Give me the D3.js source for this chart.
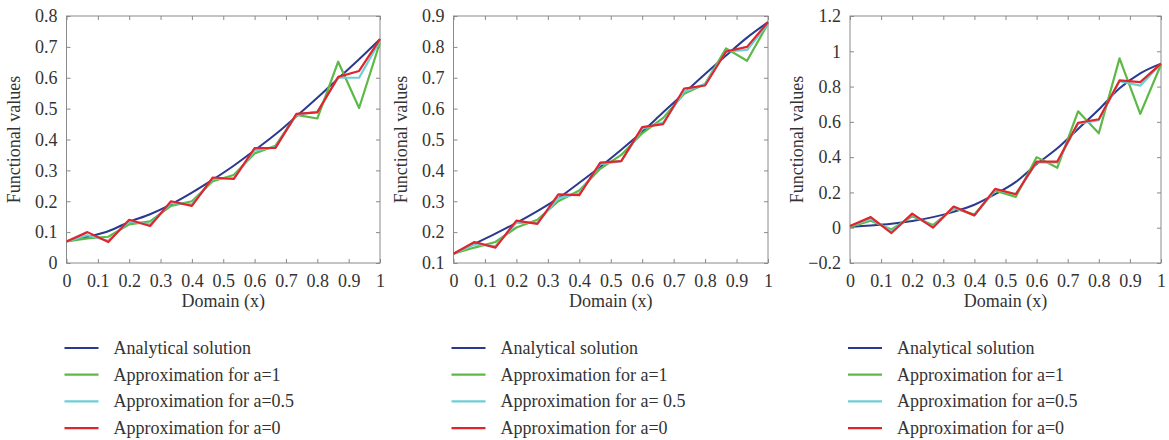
<!DOCTYPE html>
<html>
<head>
<meta charset="utf-8">
<script src="https://cdn.jsdelivr.net/npm/d3@7"></script>
<style>
  body { margin: 0; background: #fff; }
  svg { display: block; }
  text { font-family: "Liberation Serif", "DejaVu Serif", serif; fill: #333; }
</style>
</head>
<body>
<div id="chart"></div>
<script>
// x positions shared by every panel (16 nodes on [0,1])
const xNodes = [0, 1/15, 2/15, 3/15, 4/15, 5/15, 6/15, 7/15, 8/15, 9/15, 10/15, 11/15, 12/15, 13/15, 14/15, 1];
const xTicks = [0, 0.1, 0.2, 0.3, 0.4, 0.5, 0.6, 0.7, 0.8, 0.9, 1];

const seriesNames = ["Analytical solution", "Approximation for a=1", "Approximation for a=0.5", "Approximation for a=0"];
const seriesNames2 = ["Analytical solution", "Approximation for a=1", "Approximation for a= 0.5", "Approximation for a=0"];
const seriesColors = ["#2b3990", "#5cb946", "#6ccfd6", "#e0262b"];

// panel 1
const analytic1 = [0.07, 0.085, 0.103, 0.133, 0.158, 0.19, 0.228, 0.27, 0.315, 0.365, 0.417, 0.475, 0.535, 0.598, 0.66, 0.725];
const green1 = [0.07, 0.08, 0.085, 0.125, 0.135, 0.185, 0.2, 0.265, 0.285, 0.355, 0.38, 0.48, 0.468, 0.652, 0.502, 0.715];
const cyan1 = [0.07, 0.09, 0.072, 0.135, 0.125, 0.195, 0.19, 0.272, 0.275, 0.365, 0.375, 0.48, 0.49, 0.6, 0.6, 0.72];
const red1 = [0.07, 0.1, 0.068, 0.14, 0.12, 0.2, 0.185, 0.277, 0.272, 0.372, 0.373, 0.483, 0.488, 0.603, 0.622, 0.725];
const yTicks1 = [0, 0.1, 0.2, 0.3, 0.4, 0.5, 0.6, 0.7, 0.8];

// panel 2
const analytic2 = [0.13, 0.162, 0.195, 0.23, 0.268, 0.31, 0.36, 0.412, 0.467, 0.525, 0.588, 0.65, 0.712, 0.772, 0.83, 0.88];
const green2 = [0.13, 0.15, 0.168, 0.215, 0.24, 0.3, 0.335, 0.405, 0.45, 0.52, 0.57, 0.648, 0.68, 0.795, 0.755, 0.875];
const cyan2 = [0.13, 0.16, 0.155, 0.23, 0.23, 0.31, 0.325, 0.42, 0.43, 0.535, 0.555, 0.655, 0.68, 0.785, 0.79, 0.875];
const red2 = [0.13, 0.168, 0.15, 0.237, 0.227, 0.322, 0.32, 0.425, 0.43, 0.54, 0.55, 0.665, 0.675, 0.785, 0.8, 0.88];
const yTicks2 = [0.1, 0.2, 0.3, 0.4, 0.5, 0.6, 0.7, 0.8, 0.9];

// panel 3
const analytic3 = [0.005, 0.012, 0.022, 0.038, 0.06, 0.09, 0.13, 0.19, 0.26, 0.36, 0.45, 0.56, 0.67, 0.79, 0.875, 0.93];
const green3 = [0.005, 0.04, -0.01, 0.065, 0.015, 0.11, 0.075, 0.21, 0.175, 0.4, 0.34, 0.66, 0.535, 0.96, 0.645, 0.925];
const cyan3 = [0.01, 0.05, -0.02, 0.075, 0.005, 0.115, 0.07, 0.215, 0.19, 0.37, 0.37, 0.59, 0.61, 0.83, 0.805, 0.93];
const red3 = [0.01, 0.06, -0.03, 0.08, 0.0, 0.12, 0.07, 0.22, 0.19, 0.375, 0.375, 0.595, 0.615, 0.835, 0.825, 0.93];
const yTicks3 = [-0.2, 0, 0.2, 0.4, 0.6, 0.8, 1, 1.2];

const panels = [
  { left: 66.5, right: 380, series: [analytic1, green1, cyan1, red1], yTicks: yTicks1, names: seriesNames },
  { left: 453.5, right: 768, series: [analytic2, green2, cyan2, red2], yTicks: yTicks2, names: seriesNames2 },
  { left: 850, right: 1161, series: [analytic3, green3, cyan3, red3], yTicks: yTicks3, names: seriesNames }
];

const width = 1169, height = 440;
const plotTop = 16, plotBottom = 263;
const tickLen = 4;
const fontSize = 18;
const serif = '"Liberation Serif", "DejaVu Serif", serif';

const svg = d3.select("#chart").append("svg")
  .attr("width", width)
  .attr("height", height)
  .attr("font-family", serif);

const fmt = d => d === 0 ? "0" : d === 1 ? "1" : d3.format("")(+d.toFixed(1));

panels.forEach(p => {
  const x = d3.scaleLinear().domain([0, 1]).range([p.left, p.right]);
  const y = d3.scaleLinear().domain(d3.extent(p.yTicks)).range([plotBottom, plotTop]);
  const g = svg.append("g");

  // frame
  g.append("rect")
    .attr("x", p.left).attr("y", plotTop)
    .attr("width", p.right - p.left).attr("height", plotBottom - plotTop)
    .attr("fill", "none").attr("stroke", "#8a8a8a").attr("stroke-width", 1);

  // ticks on all four sides, pointing inward
  const axB = d3.axisBottom(x).tickValues(xTicks).tickSizeInner(-tickLen).tickSizeOuter(0).tickPadding(11).tickFormat(fmt);
  const axT = d3.axisTop(x).tickValues(xTicks).tickSizeInner(-tickLen).tickSizeOuter(0).tickFormat("");
  const axL = d3.axisLeft(y).tickValues(p.yTicks).tickSizeInner(-tickLen).tickSizeOuter(0).tickPadding(9).tickFormat(fmt);
  const axR = d3.axisRight(y).tickValues(p.yTicks).tickSizeInner(-tickLen).tickSizeOuter(0).tickFormat("");

  [[axB, `translate(0,${plotBottom})`], [axT, `translate(0,${plotTop})`], [axL, `translate(${p.left},0)`], [axR, `translate(${p.right},0)`]]
    .forEach(([ax, tr]) => {
      const a = g.append("g").attr("transform", tr).call(ax)
        .attr("font-family", serif).attr("font-size", fontSize);
      a.select(".domain").remove();
      a.selectAll("line").attr("stroke", "#8a8a8a");
      a.selectAll("text").attr("fill", "#333");
    });

  // axis titles
  g.append("text")
    .attr("x", (p.left + p.right) / 2).attr("y", 307)
    .attr("text-anchor", "middle").attr("font-size", fontSize)
    .text("Domain (x)");
  g.append("text")
    .attr("transform", `translate(${p.left - 47},${(plotTop + plotBottom) / 2}) rotate(-90)`)
    .attr("text-anchor", "middle").attr("font-size", fontSize)
    .text("Functional values");

  // curves
  const line = d3.line().x((d, i) => x(xNodes[i])).y(d => y(d));
  p.series.forEach((s, k) => {
    g.append("path")
      .datum(s)
      .attr("fill", "none")
      .attr("stroke", seriesColors[k])
      .attr("stroke-width", k === 0 ? 2 : 2.2)
      .attr("stroke-linejoin", "round")
      .attr("d", k === 0 ? line.curve(d3.curveMonotoneX)(s) : line.curve(d3.curveLinear)(s));
  });

  // legend
  const lg = g.append("g").attr("transform", `translate(${p.left - 2},348)`);
  p.names.forEach((n, k) => {
    const yy = k * 26.7;
    lg.append("line")
      .attr("x1", 0).attr("x2", 34).attr("y1", yy).attr("y2", yy)
      .attr("stroke", seriesColors[k]).attr("stroke-width", 2.2);
    lg.append("text")
      .attr("x", 49).attr("y", yy).attr("dy", "0.33em")
      .attr("font-size", fontSize)
      .text(n);
  });
});
</script>
</body>
</html>
